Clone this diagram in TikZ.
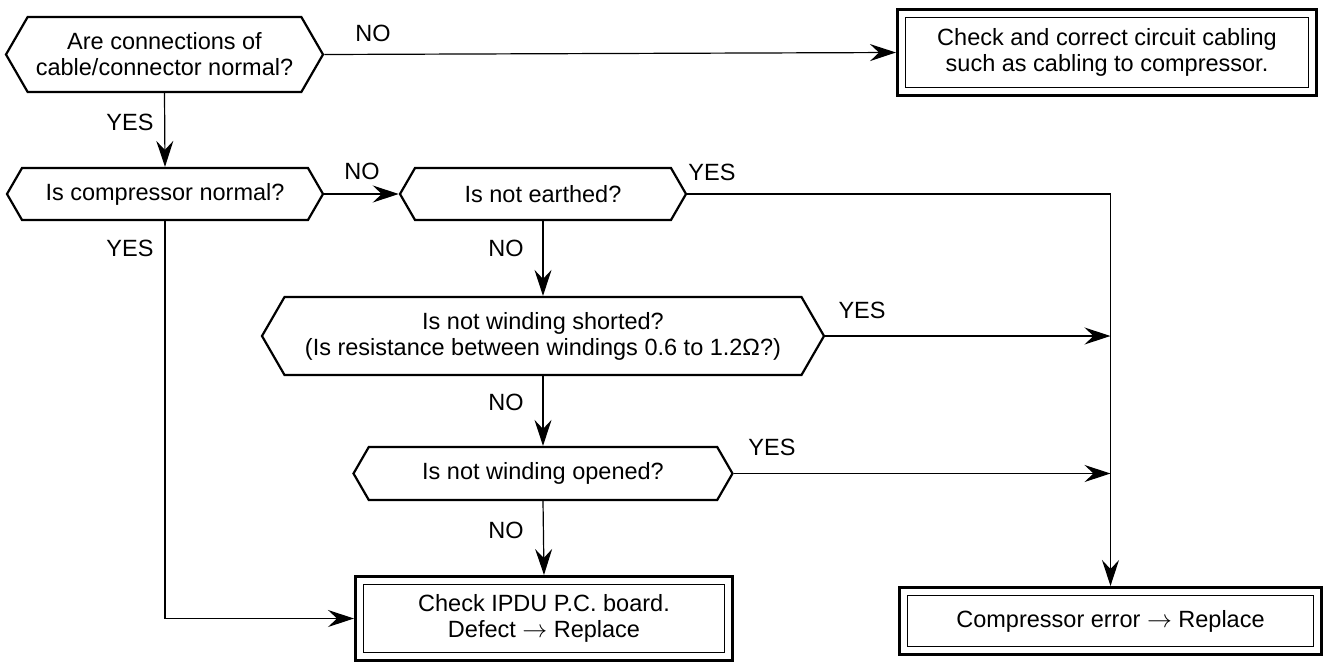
\documentclass[tikz,border=0pt]{standalone}
\usepackage{fontspec}
\setmainfont{Liberation Sans}
\usetikzlibrary{shapes.symbols,arrows.meta}
\begin{document}
\begin{tikzpicture}[x=1pt,y=-1pt,
  txt/.style={font=\fontsize{23.5}{26}\selectfont, align=center, inner sep=0pt},
  hexa/.style={txt, signal, signal to=west and east, signal pointer angle=120, draw, line width=2.2pt},
  resbox/.style={txt, draw, line width=1.1pt, outer sep=9.5pt},
  outerline/.style={draw, line width=3pt},
  conn/.style={line width=1.2pt, -{Stealth[length=26pt,width=17pt,inset=9pt]}},
  lbl/.style={txt}]
\useasboundingbox (0,0) rectangle (1327,664);
% decisions
\node[hexa, minimum width=317, minimum height=75] (h1) at (164.5,54.5) {Are connections of\\cable/connector normal?};
\node[hexa, minimum width=316, minimum height=52] (h2) at (165,194) {Is compressor normal?};
\node[hexa, minimum width=286, minimum height=52] (h3) at (543,194) {Is not earthed?};
\node[hexa, minimum width=562, minimum height=78] (h4) at (543,336) {Is not winding shorted?\\(Is resistance between windings 0.6 to 1.2Ω?)};
\node[hexa, minimum width=379, minimum height=53] (h5) at (543,473.5) {Is not winding opened?};
% result boxes
\node[resbox, minimum width=403, minimum height=70] (b2) at (1107,52.5) {Check and correct circuit cabling\\such as cabling to compressor.};
\node[resbox, minimum width=361, minimum height=68] (b1) at (544,618.5) {Check IPDU P.C. board.\\Defect $\rightarrow$ Replace};
\node[resbox, minimum width=406, minimum height=51] (b3) at (1110.5,621) {Compressor error $\rightarrow$ Replace};
\foreach \b in {b1,b2,b3}
  \draw[outerline] ([shift={(1.5pt,-1.5pt)}]\b.north west) rectangle ([shift={(-1.5pt,1.5pt)}]\b.south east);
% junctions
\coordinate (j4) at (h4.east -| b3.north);
\coordinate (j5) at (h5.east -| b3.north);
% connectors
\draw[conn] (h1.east) -- (b2.west);
\draw[conn] (h1.south) -- (h2.north);
\draw[conn] (h2.east) -- (h3.west);
\draw[conn] (h3.east) -| (b3.north);
\draw[conn] (h3.south) -- (h4.north);
\draw[conn] (h4.east) -- (j4);
\draw[conn] (h4.south) -- (h5.north);
\draw[conn] (h5.east) -- (j5);
\draw[conn] (h5.south) -- (b1.north);
\draw[conn] (h2.south) |- (b1.west);
% labels
\node[lbl] (l1) at (373,33) {NO};
\node[lbl] (l2) at (130,122) {YES};
\node[lbl] (l3) at (362,171) {NO};
\node[lbl] (l4) at (712,172) {YES};
\node[lbl] (l5) at (130,248) {YES};
\node[lbl] (l6) at (506,248) {NO};
\node[lbl] (l7) at (862,310) {YES};
\node[lbl] (l8) at (506,402) {NO};
\node[lbl] (l9) at (772,447) {YES};
\node[lbl] (l10) at (506,530) {NO};
\end{tikzpicture}
\end{document}
